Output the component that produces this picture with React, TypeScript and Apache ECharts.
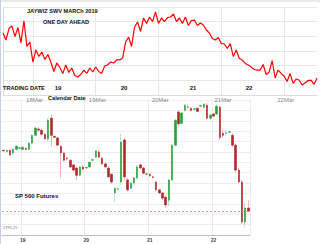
import { useEffect, useRef } from "react";
import * as echarts from "echarts";

// Top panel: forecast signal (one day ahead), sampled along the calendar axis
const signalValues = [
  42.3, 37.5, 45.3, 47.0, 39.9, 46.0, 35.5, 50.5, 33.1, 36.0, 22.5, 30.7, 26.3, 29.3, 24.2, 27.6,
  22.5, 16.0, 21.8, 18.8, 14.7, 20.5, 15.4, 18.4, 13.3, 12.3, 14.0, 17.0, 14.7, 18.4, 15.7, 19.1,
  16.0, 14.7, 19.8, 20.5, 22.5, 21.8, 23.9, 23.9, 25.2, 36.1, 39.5, 33.1, 46.4, 49.8, 43.3, 52.5,
  48.8, 53.2, 50.1, 56.6, 48.8, 52.5, 50.1, 52.8, 53.2, 55.2, 50.1, 52.5, 48.8, 53.2, 47.4, 50.8,
  51.1, 47.4, 49.1, 47.7, 44.3, 42.3, 38.5, 37.5, 39.2, 35.1, 34.8, 31.7, 35.1, 26.3, 30.7, 24.9,
  23.9, 21.5, 20.5, 19.1, 17.4, 17.0, 17.0, 20.8, 14.0, 15.7, 23.5, 11.6, 17.0, 14.7, 13.0, 9.2,
  14.6, 7.9, 10.9, 10.2, 6.8, 8.2, 9.9, 10.2, 7.2, 11.6,
];
const calendarLabels = ["18Mar", "19Mar", "20Mar", "21Mar", "22Mar"];
const calendarIndex = [10, 31, 52, 73, 94];
const tradingDayLabels = ["19", "20", "21", "22"];

// Bottom panel: SP 500 futures hourly candles
const candleOpen = [
  2830.75, 2830.25, 2830.75, 2829.5, 2831.25, 2831.75, 2831.25, 2831.75, 2831.25, 2834.25,
  2838.0, 2841.0, 2840.5, 2838.5, 2836.25, 2846.25, 2837.5, 2836.75, 2832.75, 2829.5,
  2827.0, 2826.0, 2823.75, 2822.25, 2818.75, 2822.75, 2822.25, 2822.75, 2826.0, 2827.5,
  2830.0, 2827.0, 2824.25, 2822.25, 2819.25, 2810.25, 2812.0, 2815.5, 2835.75, 2816.5,
  2812.5, 2815.0, 2817.5, 2823.75, 2822.25, 2819.25, 2819.25, 2818.0, 2815.5, 2811.75,
  2810.25, 2808.25, 2806.75, 2816.5, 2833.25, 2849.25, 2843.75, 2850.0, 2851.5, 2851.0,
  2850.5, 2851.0, 2852.0, 2851.5, 2852.5, 2846.25, 2848.25, 2848.25, 2851.5, 2839.0,
  2839.0, 2839.5, 2838.0, 2833.25, 2821.25, 2815.5, 2796.25, 2803.0,
];
const candleClose = [
  2830.5, 2830.75, 2828.5, 2831.25, 2832.75, 2832.0, 2832.25, 2831.25, 2834.25, 2838.0,
  2841.5, 2840.5, 2838.5, 2836.25, 2845.25, 2838.0, 2837.0, 2833.25, 2829.5, 2826.0,
  2826.75, 2822.75, 2821.25, 2818.75, 2822.75, 2821.75, 2822.5, 2825.0, 2826.25, 2830.5,
  2827.5, 2824.25, 2822.75, 2818.0, 2815.5, 2812.5, 2812.25, 2834.75, 2818.0, 2811.75,
  2815.0, 2817.5, 2822.75, 2822.25, 2819.75, 2819.5, 2818.5, 2817.75, 2811.75, 2810.25,
  2807.75, 2804.5, 2816.5, 2833.25, 2845.25, 2843.5, 2848.75, 2852.5, 2851.75, 2850.0,
  2850.75, 2849.5, 2852.25, 2853.0, 2846.25, 2847.75, 2847.25, 2852.0, 2837.0, 2838.0,
  2839.25, 2839.75, 2833.25, 2821.25, 2815.5, 2796.25, 2803.0, 2801.5,
];
const candleLow = [
  2830.25, 2829.75, 2828.0, 2828.5, 2830.75, 2831.25, 2830.75, 2830.75, 2830.75, 2833.75,
  2837.5, 2839.5, 2838.0, 2835.75, 2835.25, 2832.75, 2836.75, 2832.75, 2817.5, 2825.5,
  2826.0, 2822.25, 2820.75, 2816.5, 2818.25, 2821.25, 2821.75, 2822.25, 2825.5, 2827.0,
  2827.0, 2823.75, 2822.25, 2817.5, 2814.5, 2806.0, 2811.5, 2814.0, 2816.5, 2810.75,
  2812.0, 2814.5, 2817.0, 2821.75, 2819.25, 2818.75, 2818.0, 2817.25, 2811.25, 2809.75,
  2806.75, 2803.0, 2804.0, 2816.0, 2832.75, 2842.5, 2843.25, 2849.5, 2851.0, 2849.5,
  2850.0, 2849.0, 2851.5, 2851.0, 2845.75, 2845.25, 2846.75, 2847.75, 2835.75, 2837.0,
  2837.5, 2839.0, 2832.25, 2820.25, 2815.0, 2795.25, 2793.75, 2801.0,
];
const candleHigh = [
  2831.25, 2831.25, 2831.25, 2831.75, 2833.25, 2832.25, 2832.5, 2832.25, 2834.75, 2838.5,
  2842.0, 2842.0, 2841.0, 2839.0, 2846.25, 2848.25, 2838.0, 2837.0, 2833.25, 2830.0,
  2827.5, 2826.5, 2824.25, 2822.75, 2823.25, 2823.75, 2823.0, 2825.5, 2826.5, 2830.75,
  2830.75, 2827.5, 2824.75, 2823.25, 2819.75, 2813.0, 2812.75, 2838.5, 2836.75, 2817.5,
  2815.5, 2818.0, 2823.75, 2824.25, 2822.75, 2820.0, 2819.75, 2818.5, 2816.0, 2812.25,
  2810.75, 2808.75, 2817.0, 2833.75, 2845.75, 2850.0, 2849.25, 2853.0, 2853.5, 2851.5,
  2851.0, 2851.5, 2852.75, 2853.5, 2853.5, 2848.25, 2848.75, 2853.0, 2852.5, 2840.5,
  2840.5, 2840.25, 2839.0, 2834.25, 2822.25, 2816.5, 2805.5, 2806.75,
];
const tradingDayIndex = [6, 26, 46, 66];
const lastPrice = 2801.5;
const priceMin = 2790;
const priceMax = 2855;

export default function App() {
  const ref = useRef<HTMLDivElement>(null);
  useEffect(() => {
    if (!ref.current) return;
    const chart = echarts.init(ref.current, null, { renderer: "svg" });
    const lineCats = signalValues.map((_, i) => String(i));
    const candleCats = candleOpen.map((_, i) => String(i));
    const wickData = candleOpen.map((o, i) => [o, candleClose[i], candleLow[i], candleHigh[i]]);
    const bodyData = candleOpen.map((o, i) => {
      const c = candleClose[i];
      return [o, c, Math.min(o, c), Math.max(o, c)];
    });
    const bold = { fontFamily: "Liberation Sans", fontWeight: "bold" as const, fill: "#111" };
    chart.setOption({
      animation: false,
      backgroundColor: "#fff",
      grid: [
        { left: 2, top: 7, width: 315, height: 88 },
        { left: 2, top: 100, width: 248, height: 135 },
      ],
      xAxis: [
        {
          type: "category",
          gridIndex: 0,
          data: lineCats,
          boundaryGap: false,
          axisLine: { lineStyle: { color: "#dcdcdc" } },
          axisTick: { show: false },
          axisLabel: {
            interval: 0,
            hideOverlap: false,
            showMinLabel: false,
            showMaxLabel: false,
            formatter: (_v: string, i: number) => {
              const k = calendarIndex.indexOf(i);
              return k >= 0 ? "  " + calendarLabels[k] : "";
            },
            color: "#888",
            fontSize: 6,
            fontFamily: "Liberation Sans",
            margin: 2,
          },
          splitLine: {
            show: true,
            interval: (i: number) => calendarIndex.includes(i),
            lineStyle: { color: "#e8e8e8" },
          },
        },
        {
          type: "category",
          gridIndex: 1,
          data: candleCats,
          boundaryGap: true,
          axisLine: { lineStyle: { color: "#c0c0c0" } },
          axisTick: { show: false },
          axisLabel: {
            interval: 0,
            hideOverlap: false,
            formatter: (_v: string, i: number) => {
              const k = tradingDayIndex.indexOf(i);
              return k >= 0 ? tradingDayLabels[k] : "";
            },
            color: "#444",
            fontSize: 5,
            fontWeight: "bold",
            fontFamily: "Liberation Sans",
            margin: 2,
          },
          splitLine: {
            show: true,
            interval: (i: number) => tradingDayIndex.includes(i),
            lineStyle: { color: "#ececec" },
          },
        },
      ],
      yAxis: [
        {
          type: "value",
          gridIndex: 0,
          min: 0,
          max: 60,
          interval: 10,
          axisLine: { show: true, lineStyle: { color: "#dcdcdc" } },
          axisTick: { show: false },
          axisLabel: { show: false },
          splitLine: { lineStyle: { color: "#e8e8e8" } },
        },
        {
          type: "value",
          gridIndex: 1,
          min: priceMin,
          max: priceMax,
          interval: 5,
          axisLine: { show: false },
          axisTick: { show: false },
          axisLabel: { show: false },
          splitLine: { lineStyle: { color: "#eeeeee" } },
        },
      ],
      series: [
        {
          type: "line",
          xAxisIndex: 0,
          yAxisIndex: 0,
          data: signalValues,
          symbol: "none",
          lineStyle: { color: "#ff0000", width: 1.2 },
        },
        {
          type: "candlestick",
          xAxisIndex: 1,
          yAxisIndex: 1,
          data: wickData,
          barWidth: 1,
          itemStyle: {
            color: "#c4dbe8",
            color0: "#f3b5b5",
            borderColor: "#c4dbe8",
            borderColor0: "#f3b5b5",
            borderWidth: 1,
          },
        },
        {
          type: "candlestick",
          xAxisIndex: 1,
          yAxisIndex: 1,
          data: bodyData,
          barWidth: 2,
          itemStyle: {
            color: "#27a338",
            color0: "#b3262b",
            borderColor: "#27a338",
            borderColor0: "#b3262b",
            borderWidth: 0.6,
          },
          markLine: {
            silent: true,
            symbol: "none",
            label: { show: false },
            lineStyle: { color: "#f4a0a0", type: [2, 2], width: 1 },
            data: [{ yAxis: lastPrice }],
          },
        },
      ],
      graphic: [
        { type: "line", z: 100, shape: { x1: 0, y1: 1, x2: 320, y2: 1 }, style: { stroke: "#d4d4d4", lineWidth: 1 } },
        { type: "line", z: 100, shape: { x1: 0.5, y1: 0, x2: 0.5, y2: 244 }, style: { stroke: "#c7d0e2", lineWidth: 1 } },
        { type: "text", z: 100, x: 27, y: 11, style: { ...bold, text: "JAYWIZ SWV MARCh 2019", fontSize: 5.6, textVerticalAlign: "middle" } },
        { type: "text", z: 100, x: 43, y: 22, style: { ...bold, text: "ONE DAY AHEAD", fontSize: 5.6, textVerticalAlign: "middle" } },
        { type: "text", z: 100, x: 3, y: 88, style: { ...bold, text: "TRADING DATE", fontSize: 5.6, textVerticalAlign: "middle" } },
        { type: "text", z: 100, x: 58, y: 88, style: { ...bold, text: "19", fontSize: 6, textAlign: "center", textVerticalAlign: "middle" } },
        { type: "text", z: 100, x: 124, y: 88, style: { ...bold, text: "20", fontSize: 6, textAlign: "center", textVerticalAlign: "middle" } },
        { type: "text", z: 100, x: 193, y: 88, style: { ...bold, text: "21", fontSize: 6, textAlign: "center", textVerticalAlign: "middle" } },
        { type: "text", z: 100, x: 249, y: 88, style: { ...bold, text: "22", fontSize: 6, textAlign: "center", textVerticalAlign: "middle" } },
        { type: "text", z: 100, x: 48, y: 98, style: { ...bold, text: "Calendar Date", fontSize: 5.6, textVerticalAlign: "middle" } },
        { type: "text", z: 100, x: 15, y: 196, style: { ...bold, text: "SP 500 Futures", fontSize: 6, textVerticalAlign: "middle" } },
        { type: "text", z: 100, x: 3, y: 227, style: { text: "2795.25", fontSize: 4, fill: "#777", fontFamily: "Liberation Sans", textVerticalAlign: "middle" } },
      ],
    });
    return () => chart.dispose();
  }, []);
  return <div ref={ref} style={{ width: 320, height: 244, position: "absolute", left: 0, top: 0 }} />;
}
